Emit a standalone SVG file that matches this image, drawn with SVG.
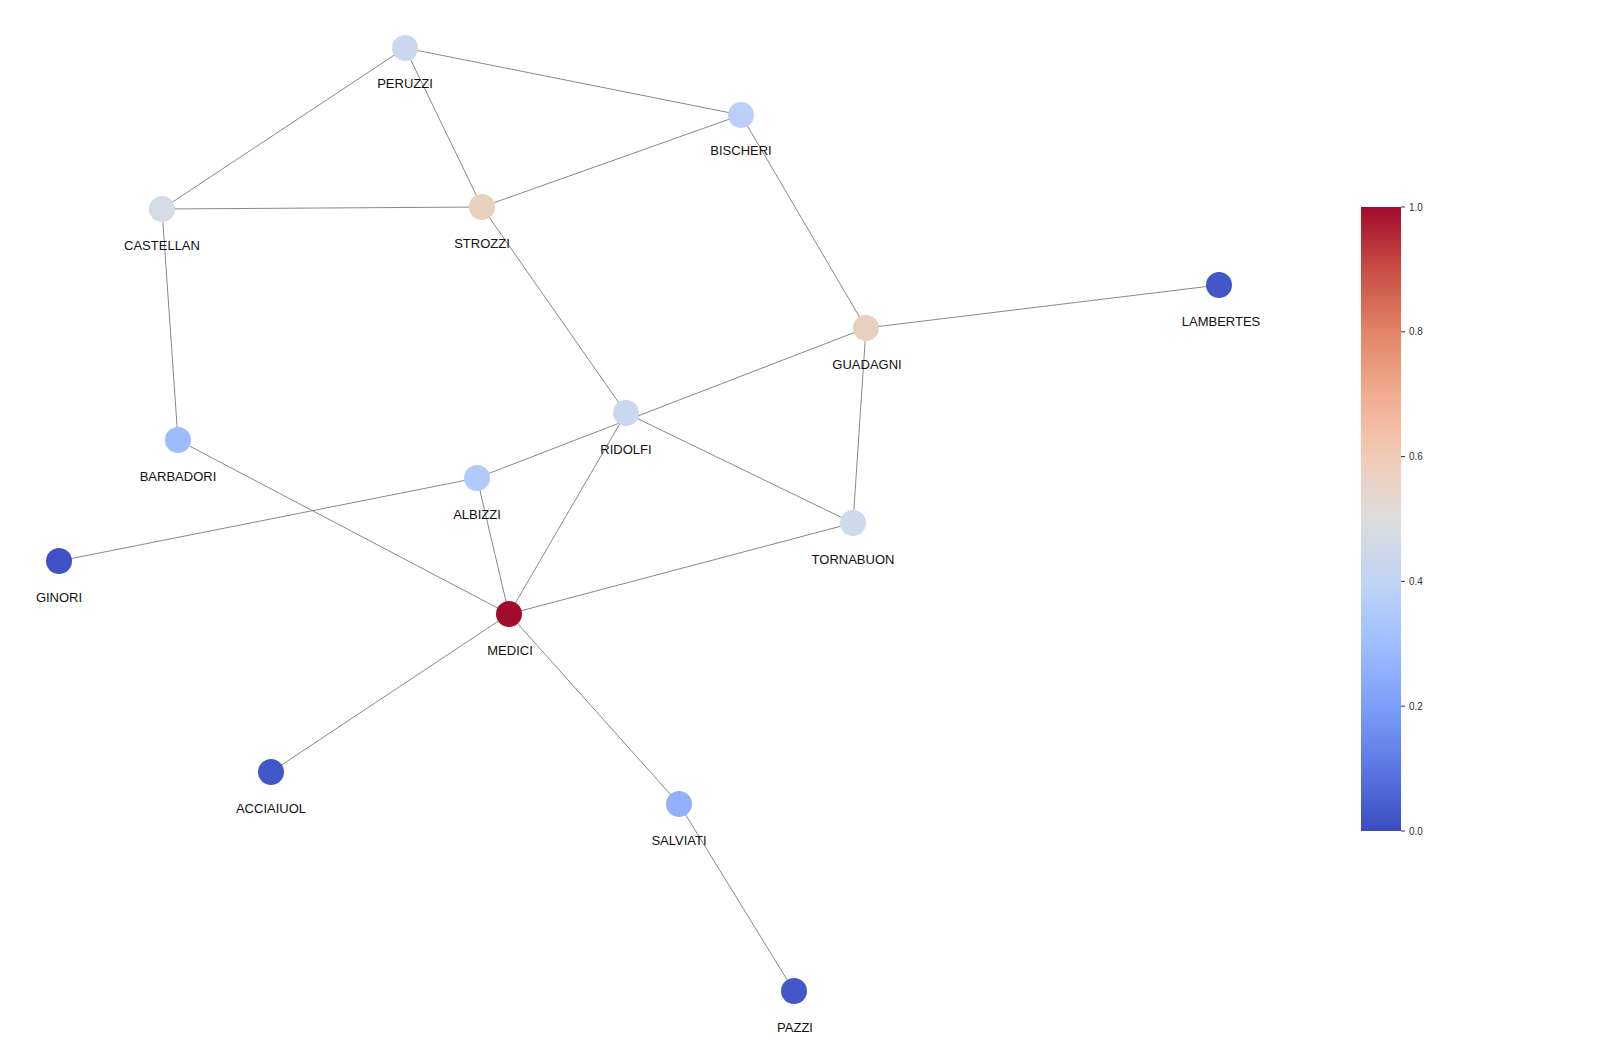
<svg xmlns="http://www.w3.org/2000/svg" width="1600" height="1040" viewBox="0 0 1600 1040">
<style>
.edge{stroke:#888;stroke-width:1;fill:none}
.lbl{font-family:"Liberation Sans",Arial,sans-serif;font-size:13px;fill:#111;text-anchor:middle}
.tick{stroke:#333;stroke-width:1}
.tl{font-family:"Liberation Sans",Arial,sans-serif;font-size:10px;fill:#333}
</style>
<defs>
<linearGradient id="cw" x1="0" y1="1" x2="0" y2="0">
<stop offset="0" stop-color="#3b4cc0"/>
<stop offset="0.1" stop-color="#5977e3"/>
<stop offset="0.2" stop-color="#7b9ff9"/>
<stop offset="0.3" stop-color="#9ebeff"/>
<stop offset="0.4" stop-color="#c0d4f5"/>
<stop offset="0.5" stop-color="#dddcdc"/>
<stop offset="0.6" stop-color="#f2cbb7"/>
<stop offset="0.7" stop-color="#f2ac8e"/>
<stop offset="0.8" stop-color="#e28468"/>
<stop offset="0.9" stop-color="#c84d44"/>
<stop offset="1" stop-color="#a20b2c"/>
</linearGradient>
</defs>
<rect width="1600" height="1040" fill="#fff"/>
<g id="edges">
<line class="edge" x1="405" y1="48" x2="162" y2="209"/>
<line class="edge" x1="405" y1="48" x2="741" y2="115"/>
<line class="edge" x1="405" y1="48" x2="482" y2="207"/>
<line class="edge" x1="162" y1="209" x2="482" y2="207"/>
<line class="edge" x1="162" y1="209" x2="178" y2="440"/>
<line class="edge" x1="482" y1="207" x2="741" y2="115"/>
<line class="edge" x1="482" y1="207" x2="626" y2="413"/>
<line class="edge" x1="741" y1="115" x2="866" y2="328"/>
<line class="edge" x1="866" y1="328" x2="1219" y2="285"/>
<line class="edge" x1="866" y1="328" x2="477" y2="478"/>
<line class="edge" x1="866" y1="328" x2="853" y2="523"/>
<line class="edge" x1="626" y1="413" x2="853" y2="523"/>
<line class="edge" x1="626" y1="413" x2="509" y2="614"/>
<line class="edge" x1="178" y1="440" x2="509" y2="614"/>
<line class="edge" x1="477" y1="478" x2="59" y2="561"/>
<line class="edge" x1="477" y1="478" x2="509" y2="614"/>
<line class="edge" x1="853" y1="523" x2="509" y2="614"/>
<line class="edge" x1="509" y1="614" x2="271" y2="772"/>
<line class="edge" x1="509" y1="614" x2="679" y2="804"/>
<line class="edge" x1="679" y1="804" x2="794" y2="991"/>
</g>
<g id="PERUZZI"><circle cx="405" cy="48" r="13" fill="#c9d7f0"/><text class="lbl" x="405" y="88">PERUZZI</text></g>
<g id="BISCHERI"><circle cx="741" cy="115" r="13" fill="#bccffa"/><text class="lbl" x="741" y="155">BISCHERI</text></g>
<g id="CASTELLAN"><circle cx="162" cy="209" r="13" fill="#d5dbe5"/><text class="lbl" x="162" y="250">CASTELLAN</text></g>
<g id="STROZZI"><circle cx="482" cy="207" r="13" fill="#e8d0be"/><text class="lbl" x="482" y="248">STROZZI</text></g>
<g id="LAMBERTES"><circle cx="1219" cy="285" r="13" fill="#4457c9"/><text class="lbl" x="1221" y="326">LAMBERTES</text></g>
<g id="GUADAGNI"><circle cx="866" cy="328" r="13" fill="#e8d0bf"/><text class="lbl" x="867" y="369">GUADAGNI</text></g>
<g id="RIDOLFI"><circle cx="626" cy="413" r="13" fill="#c9d7f0"/><text class="lbl" x="626" y="454">RIDOLFI</text></g>
<g id="BARBADORI"><circle cx="178" cy="440" r="13" fill="#9ebcfd"/><text class="lbl" x="178" y="481">BARBADORI</text></g>
<g id="ALBIZZI"><circle cx="477" cy="478" r="13" fill="#b2cafb"/><text class="lbl" x="477" y="519">ALBIZZI</text></g>
<g id="TORNABUON"><circle cx="853" cy="523" r="13" fill="#cdd9ec"/><text class="lbl" x="853" y="564">TORNABUON</text></g>
<g id="GINORI"><circle cx="59" cy="561" r="13" fill="#3f51c4"/><text class="lbl" x="59" y="602">GINORI</text></g>
<g id="MEDICI"><circle cx="509" cy="614" r="13" fill="#a20b2c"/><text class="lbl" x="510" y="655">MEDICI</text></g>
<g id="ACCIAIUOL"><circle cx="271" cy="772" r="13" fill="#4457c9"/><text class="lbl" x="271" y="813">ACCIAIUOL</text></g>
<g id="SALVIATI"><circle cx="679" cy="804" r="13" fill="#93b1fb"/><text class="lbl" x="679" y="845">SALVIATI</text></g>
<g id="PAZZI"><circle cx="794" cy="991" r="13" fill="#4457c9"/><text class="lbl" x="795" y="1032">PAZZI</text></g>
<g id="colorbar">
<rect x="1361" y="207" width="40" height="624" fill="url(#cw)"/>
<line class="tick" x1="1401" y1="831" x2="1405" y2="831"/><text class="tl" x="1409" y="835">0.0</text>
<line class="tick" x1="1401" y1="706.2" x2="1405" y2="706.2"/><text class="tl" x="1409" y="710">0.2</text>
<line class="tick" x1="1401" y1="581.4" x2="1405" y2="581.4"/><text class="tl" x="1409" y="585">0.4</text>
<line class="tick" x1="1401" y1="456.6" x2="1405" y2="456.6"/><text class="tl" x="1409" y="460">0.6</text>
<line class="tick" x1="1401" y1="331.8" x2="1405" y2="331.8"/><text class="tl" x="1409" y="335">0.8</text>
<line class="tick" x1="1401" y1="207" x2="1405" y2="207"/><text class="tl" x="1409" y="211">1.0</text>
</g>
</svg>
